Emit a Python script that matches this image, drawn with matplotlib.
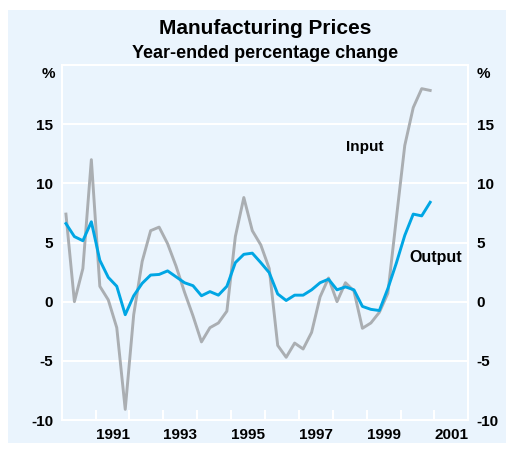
import matplotlib
matplotlib.use("Agg")
import matplotlib.pyplot as plt
from matplotlib.patches import Rectangle
import numpy as np

plt.rcParams['font.family'] = ['Liberation Sans', 'DejaVu Sans']
plt.rcParams['font.weight'] = 'bold'

# quarterly, Mar qtr 1990 to Dec qtr 2000
output_prices = [6.6, 5.5, 5.15, 6.75, 3.5, 2.05, 1.3, -1.1, 0.5, 1.55, 2.25,
                 2.3, 2.6, 2.1, 1.6, 1.35, 0.5, 0.85, 0.55, 1.3, 3.3, 4.0,
                 4.1, 3.3, 2.45, 0.65, 0.1, 0.55, 0.55, 1.0, 1.6, 1.9, 1.0, 1.25,
                 1.0, -0.4, -0.65, -0.75, 1.1, 3.25, 5.6, 7.4, 7.25, 8.4]
input_prices = [7.4, 0.0, 2.8, 12.0, 1.3, 0.15, -2.2, -9.1, -1.1, 3.4, 6.0,
                6.3, 4.9, 3.0, 0.8, -1.2, -3.4, -2.2, -1.8, -0.8, 5.5, 8.8,
                6.0, 4.8, 2.8, -3.7, -4.7, -3.5, -4.0, -2.6, 0.4, 2.0, 0.0, 1.6,
                0.9, -2.25, -1.8, -0.9, 0.7, 7.0, 13.2, 16.4, 18.0, 17.85]
year_labels = ['1991', '1993', '1995', '1997', '1999', '2001']
y_ticks = [-10, -5, 0, 5, 10, 15]

start_year = 1990
x = start_year + 0.125 + 0.25 * np.arange(len(output_prices))

bg = '#EAF4FD'
fig = plt.figure(figsize=(5.17, 4.5), dpi=100)
fig.patches.append(Rectangle((8 / 517, 1 - 443 / 450), 498 / 517, 433 / 450,
                             transform=fig.transFigure, facecolor=bg,
                             edgecolor='none', zorder=-1))

ax = fig.add_axes([61.7 / 517, 1 - 420 / 450, (468.3 - 61.7) / 517, 355 / 450])
ax.set_facecolor(bg)

for v in y_ticks[1:]:
    ax.axhline(v, color='white', lw=1.5, zorder=1)

ax.plot(x, input_prices, color='#AAAEB2', lw=2.1, zorder=3)
ax.plot(x, output_prices, color='#00A6E4', lw=2.1, zorder=4)

ax.set_xlim(1990, 2002)
ax.set_ylim(-10, 20)

for s in ax.spines.values():
    s.set_color('white')
    s.set_linewidth(1.5)

ax.set_xticks(np.arange(1991, 2002), minor=True)
ax.set_xticks([int(y) + 0.5 for y in year_labels])
ax.set_xticklabels(year_labels, fontsize=11, fontweight='bold')
ax.tick_params(axis='x', which='major', length=0, pad=6)
ax.tick_params(axis='x', which='minor', direction='in', length=7,
               width=1.5, color='white')

ax.set_yticks(y_ticks)
ax.set_yticklabels([str(v) for v in y_ticks], fontsize=11, fontweight='bold')
ax.tick_params(axis='y', length=0, pad=6, labelleft=True, labelright=True)

ax.text(-0.015, 1 - 9 / 355, '%', transform=ax.transAxes, ha='right',
        va='center', fontsize=11, fontweight='bold')
ax.text(1.021, 1 - 9 / 355, '%', transform=ax.transAxes, ha='left',
        va='center', fontsize=11, fontweight='bold')

ax.text(1998.38, 13.1, 'Input', ha='left', va='center', fontsize=11,
        fontweight='bold')
ax.text(2000.27, 3.7, 'Output', ha='left', va='center', fontsize=11.5,
        fontweight='bold')

fig.text(265.5 / 517, 1 - 28 / 450, 'Manufacturing Prices', ha='center',
         va='center', fontsize=15, fontweight='bold')
fig.text(265.5 / 517, 1 - 53 / 450, 'Year-ended percentage change',
         ha='center', va='center', fontsize=13, fontweight='bold')

fig.savefig('out.png', dpi=100, facecolor='white')
